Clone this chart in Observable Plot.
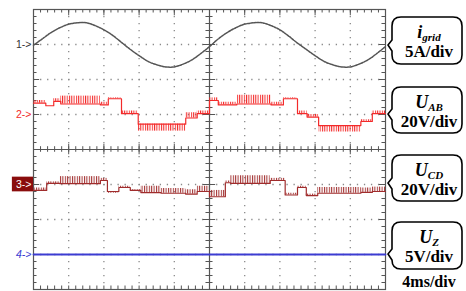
<!DOCTYPE html>
<html><head><meta charset="utf-8">
<script src="https://cdn.jsdelivr.net/npm/d3@7"></script>
<script src="https://cdn.jsdelivr.net/npm/@observablehq/plot@0.6"></script>
<style>
html,body{margin:0;padding:0;background:#fff;}
#chart{width:466px;height:291px;}
</style></head><body><div id="chart"></div>
<script>
// ---- data ----
// time axis in ms (4 ms/div, 10 div)
const gridTime = [0,1,2,3,4,5,6,7,8,9,10,11,12,13,14,15,16,17,18,19,20,21,22,23,24,25,26,27,28,29,30,31,32,33,34,35,36,37,38,39,40];
// i_grid in A (5 A/div)
const igrid = [-0.1,0.8,1.7,2.4,2.9,3.1,3.1,2.7,2.1,1.3,0.3,-0.7,-1.6,-2.4,-2.9,-3.2,-3.2,-2.8,-2.2,-1.3,-0.3,0.8,1.7,2.4,2.9,3.1,3.1,2.7,2.1,1.2,0.2,-0.7,-1.6,-2.4,-2.9,-3.2,-3.2,-2.8,-2.2,-1.3,-0.3];
// U_AB staircase: segment start (ms), base level (V), PWM switching level (V)
const uabT     = [0, 1.4, 2.3, 3.1, 7.6, 8.5, 10.0, 11.9, 17.3, 18.6, 20.0, 21.0, 23.1, 27.0, 28.4, 30.0, 31.1, 32.4, 37.2, 38.5];
const uabLevel = [6.5, 5, 7.5, 6, 5.5, 9, 0.5, -5.5, -2, 0.5, 8, 5.5, 6, 5.5, 9, 0.5, -1.5, -6.3, -4, 0.5];
const uabPwm   = [8, 5, 9, 10.5, 7, 9.5, 2, -9.5, 1, 2, 9.5, 7, 11, 7, 9.5, 2, 0, -10, -3, 2];
// U_CD staircase
const ucdT     = [0, 1.5, 3.0, 7.6, 8.4, 9.7, 11.0, 12.2, 14.5, 17.3, 18.6, 20.0, 21.8, 22.4, 26.9, 28.6, 30.0, 31.0, 32.3, 37.2, 38.5];
const ucdLevel = [-3.4, 0.6, 0.5, 2.3, -4, -1.7, -3.4, -4.6, -5, -5.5, -4, -7, 1, 0.6, 2.3, -6, -1.7, -6.3, -5, -4.5, -4];
const ucdPwm   = [-2, 1.5, 4.5, 3.5, -5, -1, -3, -1, -2.3, -3, -1, -3.4, 2, 5, 3.5, -5, -1, -5.5, -1.7, -2, -1.5];
// U_Z in V (flat)
const uzT = [0, 40];
const uzV = [0, 0];
// labels
const channelTags = ["1->", "2->", "3->", "4->"];
const traceNames = [["i", "grid"], ["U", "AB"], ["U", "CD"], ["U", "Z"]];
const scaleTexts = ["5A/div", "20V/div", "20V/div", "5V/div"];
const timeText = "4ms/div";

// ---- channel settings (offset in div, units per div) ----
const END = 40;
const ch = {
  i:  {off: 3,  per: 5},
  ab: {off: 1,  per: 20},
  cd: {off: -1, per: 20},
  z:  {off: -3, per: 5}
};
const toDiv = (c, v) => ch[c].off + v / ch[c].per;

function segments(c, T, L, P) {
  return T.map((t, k) => ({t0: t, t1: k + 1 < T.length ? T[k + 1] : END,
    y1: toDiv(c, L[k]), y2: toDiv(c, P[k])}));
}
function steps(c, T, L) {
  const pts = T.map((t, k) => ({t, y: toDiv(c, L[k])}));
  pts.push({t: END, y: toDiv(c, L[L.length - 1])});
  return pts;
}

const iData = gridTime.map((t, k) => ({t, y: toDiv("i", igrid[k])}));
const zData = uzT.map((t, k) => ({t, y: toDiv("z", uzV[k])}));

const xMinor = d3.range(0, END + 0.001, 0.8);
const xMajor = d3.range(0, END + 0.001, 4);
const yMinor = d3.range(-4, 4.001, 0.2);
const yMajor = d3.range(-4, 4.001, 1);

const RED = "#f32a2a", DRED = "#a02c2c", BLUE = "#3c3cd2", GRAY = "#555";

const plot = Plot.plot({
  width: 466, height: 291,
  marginLeft: 33, marginRight: 81, marginTop: 9, marginBottom: 2,
  x: {domain: [0, END], axis: null},
  y: {domain: [-4, 4], axis: null},
  style: {background: "#fff", fontFamily: "Arial, 'Liberation Sans', sans-serif"},
  marks: [
    // dotted graticule
    Plot.ruleY([-3, -2, -1, 1, 2, 3], {stroke: "#8a8a8a", strokeWidth: 1.3, strokeDasharray: "1.3 5.74"}),
    Plot.ruleX([4, 8, 12, 16, 24, 28, 32, 36], {stroke: "#8a8a8a", strokeWidth: 1.3, strokeDasharray: "1.3 5.7"}),
    // centre cross
    Plot.ruleX([20], {stroke: GRAY, strokeWidth: 1.2}),
    Plot.ruleY([0], {stroke: GRAY, strokeWidth: 1.2}),
    Plot.ruleX(xMinor, {x: d => d, y1: -0.08, y2: 0.08, stroke: GRAY}),
    Plot.ruleX(xMajor, {x: d => d, y1: -0.15, y2: 0.15, stroke: GRAY}),
    Plot.ruleY(yMinor, {y: d => d, x1: 19.6, x2: 20.4, stroke: GRAY}),
    Plot.ruleY(yMajor, {y: d => d, x1: 19.3, x2: 20.7, stroke: GRAY}),
    // edge ticks
    Plot.ruleX(xMinor, {x: d => d, y1: 4, y2: 3.9, stroke: GRAY}),
    Plot.ruleX(xMajor, {x: d => d, y1: 4, y2: 3.82, stroke: GRAY}),
    Plot.ruleX(xMinor, {x: d => d, y1: -4, y2: -3.9, stroke: GRAY}),
    Plot.ruleY(yMinor, {y: d => d, x1: 0, x2: 0.4, stroke: GRAY}),
    Plot.ruleY(yMajor, {y: d => d, x1: 0, x2: 0.7, stroke: GRAY}),
    Plot.ruleY(yMinor, {y: d => d, x1: END, x2: END - 0.4, stroke: GRAY}),
    Plot.ruleY(yMajor, {y: d => d, x1: END, x2: END - 0.7, stroke: GRAY}),
    Plot.frame({stroke: GRAY, strokeWidth: 1.2}),
    // traces
    Plot.line(zData, {x: "t", y: "y", stroke: BLUE, strokeWidth: 1.8}),
    Plot.rect(segments("cd", ucdT, ucdLevel, ucdPwm), {x1: "t0", x2: "t1", y1: "y1", y2: "y2", fill: "url(#pwmCD)"}),
    Plot.line(steps("cd", ucdT, ucdLevel), {x: "t", y: "y", curve: "step-after", stroke: DRED, strokeWidth: 1.2}),
    Plot.rect(segments("ab", uabT, uabLevel, uabPwm), {x1: "t0", x2: "t1", y1: "y1", y2: "y2", fill: "url(#pwmAB)"}),
    Plot.line(steps("ab", uabT, uabLevel), {x: "t", y: "y", curve: "step-after", stroke: RED, strokeWidth: 1.2}),
    Plot.line(iData, {x: "t", y: "y", curve: "catmull-rom", stroke: "#555", strokeWidth: 1.5, strokeDasharray: "2 1"}),
    // channel markers
    Plot.rect([0], {x1: -2.4, x2: 0, y1: -0.79, y2: -1.21, fill: "#8a0d0d"}),
    Plot.text([0], {x: 0, y: ch.i.off, text: () => channelTags[0], textAnchor: "end", dx: -2, fill: "#333", fontSize: 10.5}),
    Plot.text([0], {x: 0, y: ch.ab.off, text: () => channelTags[1], textAnchor: "end", dx: -2, fill: RED, fontSize: 10.5}),
    Plot.text([0], {x: 0, y: ch.cd.off, text: () => channelTags[2], textAnchor: "end", dx: -2, fill: "#fff", fontSize: 10.5}),
    Plot.text([0], {x: 0, y: ch.z.off, text: () => channelTags[3], textAnchor: "end", dx: -2, fill: BLUE, fontSize: 10.5, fontStyle: "italic"})
  ]
});

// patterns for PWM switching texture
const svg = d3.select(plot);
const defs = svg.insert("defs", ":first-child");
[["pwmAB", RED, 2.3], ["pwmCD", DRED, 2.4]].forEach(([id, col, w]) => {
  const p = defs.append("pattern").attr("id", id).attr("width", w).attr("height", 40)
    .attr("patternUnits", "userSpaceOnUse");
  p.append("rect").attr("width", 1).attr("height", 40).attr("fill", col);
});

// callout bubbles on the right
const boxes = [
  {y0: 17, y1: 64, py: 45},
  {y0: 87, y1: 133, py: 114},
  {y0: 155, y1: 201, py: 183},
  {y0: 222, y1: 269, py: 254}
];
const bx0 = 392, bx1 = 462, r = 9, cx = 429;
const g = svg.append("g").attr("font-family", "'Liberation Serif', 'Times New Roman', serif").attr("font-weight", "bold");
boxes.forEach((b, k) => {
  const path = `M${bx0 + r},${b.y0} H${bx1 - r} Q${bx1},${b.y0} ${bx1},${b.y0 + r} V${b.y1 - r} Q${bx1},${b.y1} ${bx1 - r},${b.y1} H${bx0 + r} Q${bx0},${b.y1} ${bx0},${b.y1 - r} V${b.py + 6} L${bx0 - 4},${b.py} L${bx0},${b.py - 5} V${b.y0 + r} Q${bx0},${b.y0} ${bx0 + r},${b.y0} Z`;
  g.append("path").attr("d", path).attr("fill", "#fff").attr("stroke", "#000").attr("stroke-width", 1.6);
  const t1 = g.append("text").attr("x", cx).attr("y", b.y0 + 21).attr("text-anchor", "middle")
    .attr("font-style", "italic").attr("font-size", 18);
  t1.append("tspan").text(traceNames[k][0]);
  t1.append("tspan").attr("font-size", 11).attr("dy", 3).text(traceNames[k][1]);
  g.append("text").attr("x", cx).attr("y", b.y0 + 40).attr("text-anchor", "middle")
    .attr("font-size", 17).text(scaleTexts[k]);
});
g.append("text").attr("x", cx).attr("y", 287).attr("text-anchor", "middle").attr("font-size", 16).text(timeText);

document.getElementById("chart").appendChild(plot);
</script>
</body></html>
